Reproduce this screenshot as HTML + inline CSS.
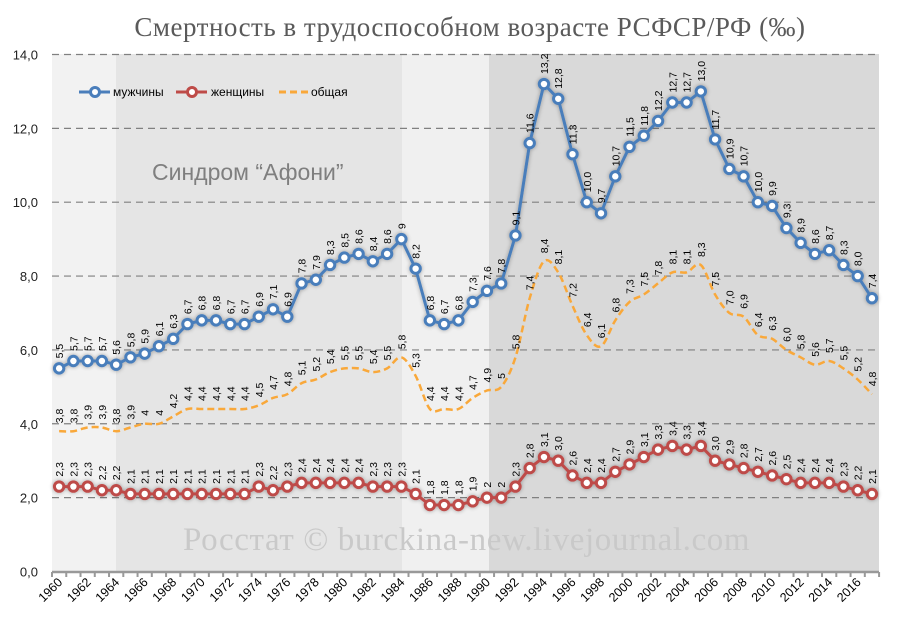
<!DOCTYPE html>
<html><head><meta charset="utf-8"><style>
body{margin:0;background:#fff;}
svg{display:block;font-family:"Liberation Sans",sans-serif;}
</style></head><body>
<svg id="s" width="900" height="625" xmlns="http://www.w3.org/2000/svg">
<defs><filter id="g" x="-50%" y="-50%" width="200%" height="200%"><feGaussianBlur in="SourceAlpha" stdDeviation="2"/><feComponentTransfer><feFuncA type="linear" slope="0.35"/></feComponentTransfer><feMerge><feMergeNode/><feMergeNode in="SourceGraphic"/></feMerge></filter></defs>
<rect x="52" y="54" width="64" height="518" fill="#f2f2f2"/>
<rect x="116" y="54" width="286" height="518" fill="#e5e5e5"/>
<rect x="402" y="54" width="87" height="518" fill="#f0f0f0"/>
<rect x="489" y="54" width="390" height="518" fill="#d9d9d9"/>
<text x="470" y="36" text-anchor="middle" font-family="Liberation Serif,serif" font-size="27" fill="#5a5a5a" letter-spacing="0.5">Смертность в трудоспособном возрасте РСФСР/РФ (‰)</text>
<text x="152" y="180" font-size="23" fill="#7f7f7f">Синдром “Афони”</text>
<text x="183" y="550" font-family="Liberation Serif,serif" font-size="33" fill="#c9c9c9" letter-spacing="0.6">Росстат © burckina-new.livejournal.com</text>
<g id="grid"></g><g id="ser"></g>
<g font-size="12" fill="#000">
<line x1="79" y1="92" x2="110" y2="92" stroke="#4a7ebb" stroke-width="3"/><circle cx="95" cy="92" r="4.5" fill="#fff" stroke="#4a7ebb" stroke-width="3"/><text x="113" y="96">мужчины</text>
<line x1="176" y1="92" x2="207" y2="92" stroke="#be4b48" stroke-width="3"/><circle cx="192" cy="92" r="4.5" fill="#fff" stroke="#be4b48" stroke-width="3"/><text x="211" y="96">женщины</text>
<line x1="279" y1="92" x2="308" y2="92" stroke="#f9a83a" stroke-width="3" stroke-dasharray="7,4"/><text x="311" y="96">общая</text>
</g>
</svg>
<script>
var m=[5.5,5.7,5.7,5.7,5.6,5.8,5.9,6.1,6.3,6.7,6.8,6.8,6.7,6.7,6.9,7.1,6.9,7.8,7.9,8.3,8.5,8.6,8.4,8.6,9,8.2,6.8,6.7,6.8,7.3,7.6,7.8,9.1,11.6,13.2,12.8,11.3,10.0,9.7,10.7,11.5,11.8,12.2,12.7,12.7,13.0,11.7,10.9,10.7,10.0,9.9,9.3,8.9,8.6,8.7,8.3,8.0,7.4];
var w=[2.3,2.3,2.3,2.2,2.2,2.1,2.1,2.1,2.1,2.1,2.1,2.1,2.1,2.1,2.3,2.2,2.3,2.4,2.4,2.4,2.4,2.4,2.3,2.3,2.3,2.1,1.8,1.8,1.8,1.9,2,2,2.3,2.8,3.1,3.0,2.6,2.4,2.4,2.7,2.9,3.1,3.3,3.4,3.3,3.4,3.0,2.9,2.8,2.7,2.6,2.5,2.4,2.4,2.4,2.3,2.2,2.1];
var t=[3.8,3.8,3.9,3.9,3.8,3.9,4,4,4.2,4.4,4.4,4.4,4.4,4.4,4.5,4.7,4.8,5.1,5.2,5.4,5.5,5.5,5.4,5.5,5.8,5.3,4.4,4.4,4.4,4.7,4.9,5,5.8,7.4,8.4,8.1,7.2,6.4,6.1,6.8,7.3,7.5,7.8,8.1,8.1,8.3,7.5,7.0,6.9,6.4,6.3,6.0,5.8,5.6,5.7,5.5,5.2,4.8];
var X=function(i){return 52+14.26*(i+0.5)},Y=function(v){return 571.5-v*36.93};
var f1=function(v){return v.toFixed(1).replace('.',',')};
var f2=function(v){return (v%1===0)?String(v):v.toFixed(1).replace('.',',')};
var g='';
for(var k=0;k<=7;k++){var y=Y(k*2);
 if(k>0)g+='<line x1="52" y1="'+y+'" x2="879" y2="'+y+'" stroke="#808080" stroke-width="1.2" stroke-dasharray="7,5"/>';
 g+='<text x="38" y="'+(y+5)+'" text-anchor="end" font-size="13" fill="#222">'+f1(k*2)+'</text>';}
g+='<line x1="52" y1="572" x2="879" y2="572" stroke="#999" stroke-width="2.5"/>';
for(var i=0;i<=58;i++){var x=52+14.26*i;g+='<line x1="'+x+'" y1="572" x2="'+x+'" y2="577" stroke="#999" stroke-width="2"/>';}
for(var i=0;i<58;i+=2){var x=X(i)+4;g+='<text transform="translate('+x+',583) rotate(-45)" text-anchor="end" font-size="12.5" fill="#000">'+(1960+i)+'</text>';}
document.getElementById('grid').innerHTML=g;
var s='';
function pts(a){return a.map(function(v,i){return X(i).toFixed(1)+','+Y(v).toFixed(1)}).join(' ')}
var d='M'+X(0)+','+Y(t[0]);
for(var i=0;i<t.length-1;i++){var p0=i>0?i-1:i,p3=i+2<t.length?i+2:i+1;
 var c1x=X(i)+(X(i+1)-X(p0))/6,c1y=Y(t[i])+(Y(t[i+1])-Y(t[p0]))/6,c2x=X(i+1)-(X(p3)-X(i))/6,c2y=Y(t[i+1])-(Y(t[p3])-Y(t[i]))/6;
 d+=' C'+c1x.toFixed(1)+','+c1y.toFixed(1)+' '+c2x.toFixed(1)+','+c2y.toFixed(1)+' '+X(i+1).toFixed(1)+','+Y(t[i+1]).toFixed(1);}
s+='<path d="'+d+'" fill="none" stroke="#f9a83a" stroke-width="2.5" stroke-dasharray="7,4"/>';
[[m,'#4a7ebb'],[w,'#be4b48']].forEach(function(o){
 s+='<g filter="url(#g)"><polyline points="'+pts(o[0])+'" fill="none" stroke="'+o[1]+'" stroke-width="3"/>';
 o[0].forEach(function(v,i){s+='<circle cx="'+X(i)+'" cy="'+Y(v)+'" r="4.7" fill="#fff" stroke="'+o[1]+'" stroke-width="3"/>';});
 s+='</g>';});
function lab(a,fmt,off,ov){a.forEach(function(v,i){var x=X(i)+4,y=Y(v)-off;
 var tx=(ov&&ov[i]!==undefined)?ov[i]:fmt(v);
 s+='<text transform="translate('+x.toFixed(1)+','+y.toFixed(1)+') rotate(-90)" font-size="10.5" fill="#000">'+tx+'</text>';});}
lab(m,f1,10,{24:'9'});lab(w,f1,10,{30:'2',31:'2'});lab(t,f2,8,{47:'7,0',51:'6,0'});
document.getElementById('ser').innerHTML=s;
</script>
</body></html>
